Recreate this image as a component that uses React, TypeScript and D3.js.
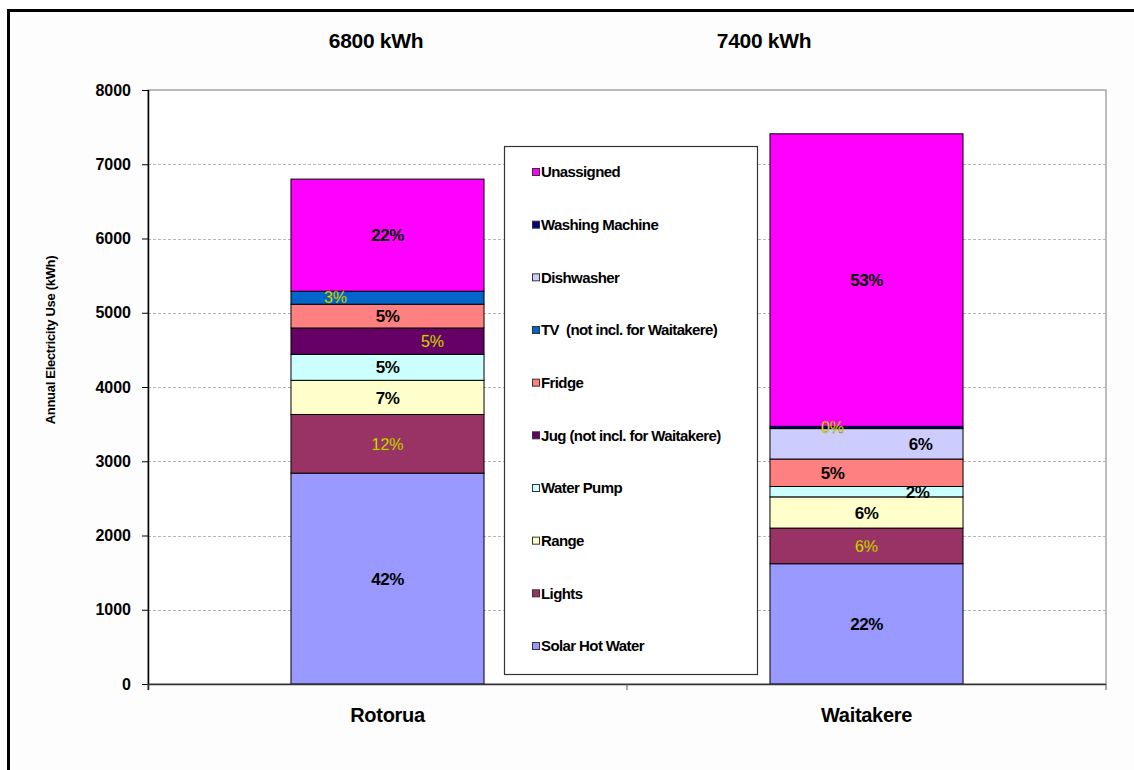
import { useEffect, useRef } from 'react'
import * as d3 from 'd3'

// categories (x axis) and stacked series, bottom to top
const categories = ['Rotorua', 'Waitakere']
const totalsText = ['6800 kWh', '7400 kWh']
const seriesNames = [
  'Solar Hot Water',
  'Lights',
  'Range',
  'Water Pump',
  'Jug (not incl. for Waitakere)',
  'Fridge',
  'TV\u00A0 (not incl. for Waitakere)',
  'Dishwasher',
  'Washing Machine',
  'Unassigned',
]
const seriesColors = [
  '#9999FF',
  '#993366',
  '#FFFFCC',
  '#CCFFFF',
  '#660066',
  '#FF8080',
  '#0066CC',
  '#CCCCFF',
  '#000080',
  '#FF00FF',
]
// annual kWh per series, same order as seriesNames
const rotoruaValues = [2840, 790, 460, 350, 355, 320, 175, 0, 0, 1510]
const waitakereValues = [1620, 480, 420, 140, 0, 370, 0, 410, 30, 3940]
// label style per series: true = yellow plain text, false = black bold
const yellowLabel = [false, true, false, false, true, false, true, false, true, false]
const yTicks = [0, 1000, 2000, 3000, 4000, 5000, 6000, 7000, 8000]

// data label nudges, like the hand-moved labels in the original
const labelShift: Record<string, number> = {
  'Rotorua|TV\u00A0 (not incl. for Waitakere)': -52,
  'Rotorua|Jug (not incl. for Waitakere)': 45,
  'Waitakere|Washing Machine': -34,
  'Waitakere|Dishwasher': 54,
  'Waitakere|Fridge': -34,
  'Waitakere|Water Pump': 51,
}

const FONT = '"Liberation Sans", Arial, sans-serif'

export default function App() {
  const svgRef = useRef<SVGSVGElement>(null)

  useEffect(() => {
    if (!svgRef.current) return
    const width = 1134
    const height = 770
    const plot = { left: 148, right: 1106, top: 90, bottom: 684 }

    const svg = d3.select(svgRef.current)
    svg.selectAll('*').remove()
    svg.attr('width', width).attr('height', height)

    // chart frame
    svg.append('rect')
      .attr('x', 0).attr('y', 0).attr('width', width).attr('height', height)
      .attr('fill', '#ffffff')
    svg.append('rect')
      .attr('x', 8.5).attr('y', 10.5).attr('width', 1200).attr('height', 800)
      .attr('fill', '#fdfdfd').attr('stroke', '#000').attr('stroke-width', 3)

    svg.append('rect')
      .attr('x', plot.left).attr('y', plot.top)
      .attr('width', plot.right - plot.left).attr('height', plot.bottom - plot.top)
      .attr('fill', '#ffffff').attr('stroke', '#a6a6a6').attr('stroke-width', 1.5)

    const x = d3.scaleBand().domain(categories).range([plot.left, plot.right]).padding(0)
    const y = d3.scaleLinear().domain([0, 8000]).range([plot.bottom, plot.top])
    const barW = x.bandwidth() * 0.403

    // gridlines
    svg.append('g')
      .selectAll('line')
      .data(yTicks.filter(t => t > 0))
      .enter()
      .append('line')
      .attr('x1', plot.left).attr('x2', plot.right)
      .attr('y1', d => Math.round(y(d)) + 0.5).attr('y2', d => Math.round(y(d)) + 0.5)
      .attr('stroke', '#b4b4b4').attr('stroke-dasharray', '3,2')

    // y axis
    const yAxis = svg.append('g')
      .attr('transform', `translate(${plot.left},0)`)
      .call(d3.axisLeft(y).tickValues(yTicks).tickFormat(d3.format('d')).tickSize(6).tickPadding(11))
    yAxis.select('.domain').remove()
    yAxis.selectAll('line').attr('stroke', '#000')
    yAxis.selectAll('text')
      .attr('fill', '#000')
      .style('font-family', FONT)
      .style('font-size', '16px')
      .style('font-weight', 'bold')
    svg.append('line')
      .attr('x1', plot.left + 0.5).attr('x2', plot.left + 0.5)
      .attr('y1', plot.top).attr('y2', plot.bottom + 6)
      .attr('stroke', '#000').attr('stroke-width', 1.5)

    // stacked bars
    const rows = categories.map((c, ci) => {
      const vals = ci === 0 ? rotoruaValues : waitakereValues
      const row: Record<string, any> = { category: c }
      seriesNames.forEach((s, si) => { row[s] = vals[si] })
      return row
    })
    const stack = d3.stack<any>().keys(seriesNames)(rows)

    stack.forEach((layer, si) => {
      const g = svg.append('g')
      layer.forEach((seg, ci) => {
        const v = seg[1] - seg[0]
        if (v <= 0) return
        const cx = (x(categories[ci]) || 0) + x.bandwidth() / 2
        g.append('rect')
          .attr('x', cx - barW / 2)
          .attr('y', y(seg[1]))
          .attr('width', barW)
          .attr('height', y(seg[0]) - y(seg[1]))
          .attr('fill', seriesColors[si])
          .attr('stroke', '#000')
          .attr('stroke-width', 1)
      })
    })

    // data labels (percent of each bar total)
    stack.forEach((layer, si) => {
      layer.forEach((seg, ci) => {
        const v = seg[1] - seg[0]
        if (v <= 0) return
        const vals = ci === 0 ? rotoruaValues : waitakereValues
        const total = d3.sum(vals)
        const cx = (x(categories[ci]) || 0) + x.bandwidth() / 2
        const shift = labelShift[`${categories[ci]}|${seriesNames[si]}`] || 0
        const yellow = yellowLabel[si]
        svg.append('text')
          .attr('x', cx + shift)
          .attr('y', y((seg[0] + seg[1]) / 2))
          .attr('dy', '0.36em')
          .attr('text-anchor', 'middle')
          .style('font-family', FONT)
          .style('font-size', yellow ? '16px' : '17px')
          .style('font-weight', yellow ? 'normal' : 'bold')
          .style('letter-spacing', yellow ? '0px' : '-0.5px')
          .style('fill', yellow ? '#eeee00' : '#000')
          .style('stroke', yellow ? '#6b6b00' : 'none')
          .style('stroke-width', yellow ? 0.3 : 0)
          .text(`${Math.round((v / total) * 100)}%`)
      })
    })

    // x axis
    svg.append('line')
      .attr('x1', plot.left).attr('x2', plot.right)
      .attr('y1', plot.bottom + 0.5).attr('y2', plot.bottom + 0.5)
      .attr('stroke', '#333').attr('stroke-width', 1.5)
    const xTickPos = [plot.left, ...categories.map(c => (x(c) || 0) + x.bandwidth())]
    svg.append('g')
      .selectAll('line')
      .data(xTickPos)
      .enter()
      .append('line')
      .attr('x1', d => d).attr('x2', d => d)
      .attr('y1', plot.bottom).attr('y2', plot.bottom + 6)
      .attr('stroke', '#555')
    svg.append('g')
      .selectAll('text')
      .data(categories)
      .enter()
      .append('text')
      .attr('x', d => (x(d) || 0) + x.bandwidth() / 2)
      .attr('y', 715)
      .attr('dy', '0.36em')
      .attr('text-anchor', 'middle')
      .style('font-family', FONT)
      .style('font-size', '20px')
      .style('font-weight', 'bold')
      .style('letter-spacing', '-0.3px')
      .text(d => d)

    // totals above the bars
    const titleX = [376, 764]
    svg.append('g')
      .selectAll('text')
      .data(totalsText)
      .enter()
      .append('text')
      .attr('x', (_, i) => titleX[i])
      .attr('y', 40)
      .attr('dy', '0.36em')
      .attr('text-anchor', 'middle')
      .style('font-family', FONT)
      .style('font-size', '21px')
      .style('font-weight', 'bold')
      .style('letter-spacing', '-0.3px')
      .text(d => d)

    // y axis title
    svg.append('text')
      .attr('transform', 'translate(50,340) rotate(-90)')
      .attr('text-anchor', 'middle')
      .attr('dy', '0.36em')
      .style('font-family', FONT)
      .style('font-size', '13px')
      .style('font-weight', 'bold')
      .style('letter-spacing', '-0.3px')
      .text('Annual Electricity Use (kWh)')

    // legend
    const legend = svg.append('g')
    legend.append('rect')
      .attr('x', 504.5).attr('y', 146.5).attr('width', 253).attr('height', 528)
      .attr('fill', '#fff').attr('stroke', '#333').attr('stroke-width', 1.2)
    const legendOrder = seriesNames.map((_, i) => i).reverse()
    const ly = d3.scalePoint<number>().domain(legendOrder).range([172, 646])
    legendOrder.forEach(si => {
      const yy = ly(si) || 0
      legend.append('rect')
        .attr('x', 532.5).attr('y', yy - 3.5).attr('width', 7).attr('height', 7)
        .attr('fill', seriesColors[si]).attr('stroke', '#333').attr('stroke-width', 1)
      legend.append('text')
        .attr('x', 541).attr('y', yy)
        .attr('dy', '0.36em')
        .style('font-family', FONT)
        .style('font-size', '15px')
        .style('font-weight', 'bold')
        .style('letter-spacing', '-0.6px')
        .text(seriesNames[si])
    })
  }, [])

  return (
    <div style={{ position: 'absolute', left: 0, top: 0 }}>
      <svg ref={svgRef} style={{ display: 'block' }}></svg>
    </div>
  )
}
